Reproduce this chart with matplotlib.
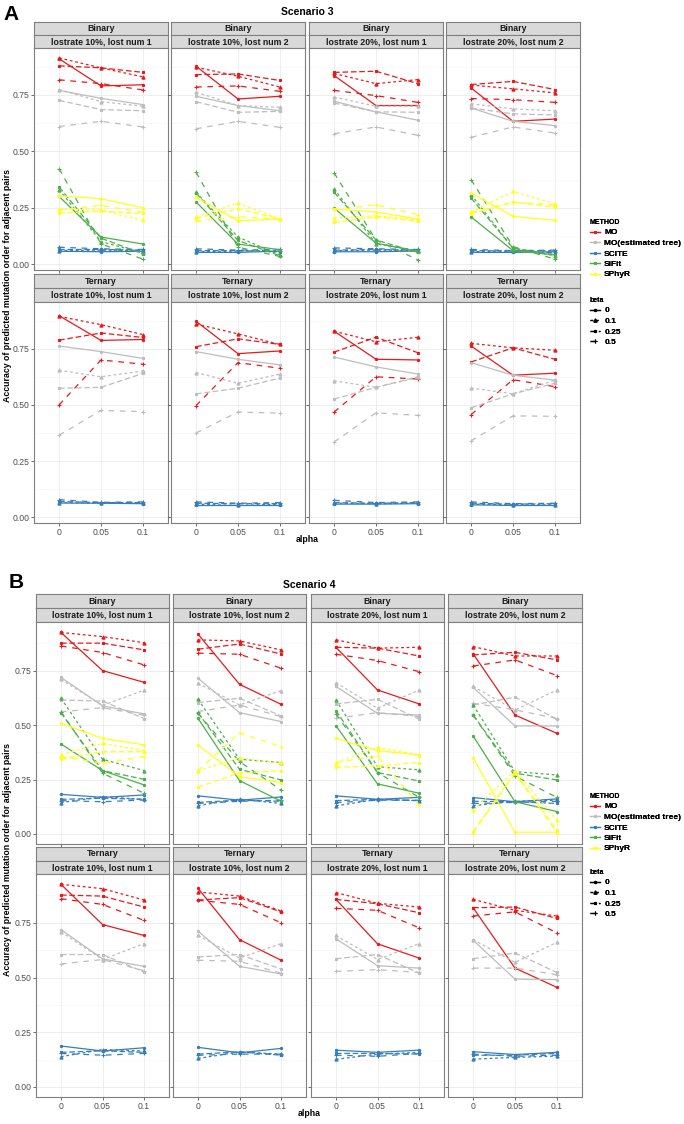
import matplotlib
matplotlib.use("Agg")
import matplotlib.pyplot as plt
from matplotlib.lines import Line2D
import numpy as np

plt.rcParams['font.family'] = ['Liberation Sans', 'DejaVu Sans']

# ---------------- data ----------------
ALPHAS = ["0", "0.05", "0.1"]
BETAS = ["0", "0.1", "0.25", "0.5"]
METHODS = ["MO", "MO(estimated tree)", "SCITE", "SiFit", "SPhyR"]
PANEL_LABELS = ["lostrate 10%, lost num 1", "lostrate 10%, lost num 2",
                "lostrate 20%, lost num 1", "lostrate 20%, lost num 2"]
ROW_LABELS = ["Binary", "Ternary"]
SCENARIOS = ["Scenario 3", "Scenario 4"]

# each array: 4 panels x 4 betas x 3 alphas
S3_BIN_MO = [[[.91, .79, .795], [.914, .87, .83], [.879, .87, .85], [.817, .80, .772]],
             [[.877, .732, .744], [.873, .833, .785], [.84, .843, .814], [.785, .79, .766]],
             [[.836, .703, .703], [.845, .80, .818], [.85, .855, .80], [.77, .747, .717]],
             [[.781, .633, .643], [.794, .777, .759], [.796, .81, .774], [.734, .729, .717]]]
S3_BIN_MOEST = [[[.77, .735, .707], [.774, .72, .70], [.726, .685, .68], [.61, .633, .608]],
                [[.744, .703, .68], [.762, .703, .695], [.72, .673, .677], [.60, .633, .606]],
                [[.722, .675, .638], [.74, .70, .70], [.714, .675, .673], [.578, .608, .571]],
                [[.692, .633, .614], [.711, .688, .68], [.692, .666, .661], [.562, .608, .581]]]
S3_BIN_SCITE = [[[.057, .055, .057], [.060, .062, .060], [.065, .065, .062], [.075, .068, .065]],
                [[.052, .052, .058], [.055, .058, .062], [.060, .060, .055], [.068, .062, .065]],
                [[.055, .055, .058], [.060, .062, .060], [.062, .065, .062], [.072, .068, .065]],
                [[.052, .052, .055], [.055, .058, .060], [.060, .058, .050], [.065, .060, .062]]]
S3_BIN_SIFIT = [[[.30, .12, .089], [.33, .10, .049], [.342, .115, .046], [.423, .09, .022]],
                [[.275, .089, .064], [.318, .12, .041], [.315, .105, .037], [.407, .075, .034]],
                [[.248, .093, .056], [.333, .09, .06], [.318, .107, .052], [.404, .107, .019]],
                [[.209, .06, .041], [.308, .071, .037], [.293, .071, .041], [.374, .078, .022]]]
S3_BIN_SPHYR = [[[.303, .29, .25], [.244, .24, .194], [.226, .235, .225], [.24, .26, .23]],
                [[.296, .192, .20], [.21, .27, .20], [.204, .245, .20], [.19, .21, .20]],
                [[.244, .231, .20], [.204, .214, .197], [.185, .209, .19], [.24, .263, .219]],
                [[.315, .212, .194], [.231, .322, .268], [.223, .275, .253], [.229, .274, .263]]]

S3_TER_MO = [[[.897, .787, .791], [.894, .857, .813], [.788, .82, .80], [.50, .70, .681]],
             [[.872, .728, .74], [.86, .816, .769], [.759, .794, .769], [.497, .688, .663]],
             [[.828, .703, .70], [.828, .781, .801], [.735, .801, .732], [.468, .625, .615]],
             [[.762, .632, .641], [.774, .754, .743], [.691, .754, .703], [.457, .612, .581]]]
S3_TER_MOEST = [[[.762, .737, .707], [.654, .625, .651], [.574, .578, .64], [.365, .475, .47]],
                [[.737, .703, .678], [.644, .596, .637], [.549, .574, .619], [.375, .468, .463]],
                [[.713, .669, .637], [.607, .578, .622], [.526, .578, .625], [.335, .465, .453]],
                [[.688, .632, .61], [.575, .549, .61], [.487, .549, .596], [.34, .451, .449]]]
S3_TER_SCITE = [[[.063, .062, .060], [.065, .062, .063], [.070, .065, .065], [.078, .066, .068]],
                [[.055, .055, .055], [.058, .052, .058], [.062, .060, .060], [.068, .062, .065]],
                [[.058, .058, .060], [.062, .060, .062], [.065, .062, .065], [.075, .065, .068]],
                [[.055, .052, .052], [.058, .055, .055], [.062, .058, .060], [.068, .060, .062]]]

S4_BIN_MO = [[[.925, .75, .696], [.925, .906, .878], [.876, .876, .845], [.863, .833, .776]],
             [[.918, .687, .595], [.891, .886, .845], [.848, .872, .826], [.83, .825, .761]],
             [[.857, .661, .597], [.891, .853, .857], [.857, .853, .817], [.825, .796, .745]],
             [[.827, .546, .462], [.86, .817, .817], [.822, .834, .799], [.771, .799, .727]]]
S4_BIN_MOEST = [[[.719, .588, .551], [.71, .59, .66], [.615, .61, .53], [.56, .58, .545]],
                [[.715, .557, .516], [.692, .592, .658], [.603, .623, .542], [.562, .592, .539]],
                [[.677, .554, .546], [.695, .577, .661], [.597, .618, .527], [.531, .557, .539]],
                [[.673, .496, .496], [.677, .569, .661], [.592, .628, .527], [.60, .57, .53]]]
S4_BIN_SCITE = [[[.182, .168, .179], [.144, .171, .159], [.159, .164, .159], [.153, .148, .156]],
                [[.175, .155, .17], [.13, .16, .14], [.145, .155, .15], [.14, .15, .155]],
                [[.175, .159, .168], [.129, .159, .153], [.153, .159, .153], [.144, .155, .155]],
                [[.167, .148, .161], [.13, .15, .155], [.15, .148, .14], [.14, .145, .15]]]
S4_BIN_SIFIT = [[[.413, .291, .225], [.623, .343, .291], [.557, .291, .251], [.562, .279, .187]],
                [[.531, .245, .15], [.618, .343, .328], [.557, .297, .248], [.554, .332, .202]],
                [[.497, .23, .187], [.615, .309, .294], [.566, .282, .243], [.551, .282, .168]],
                [[.45, .148, .103], [.592, .286, .271], [.546, .279, .248], [.546, .266, .168]]]
S4_BIN_SPHYR = [[[.508, .439, .409], [.363, .416, .383], [.343, .378, .378], [.355, .325, .355]],
                [[.409, .263, .236], [.29, .35, .325], [.215, .28, .29], [.29, .465, .40]],
                [[.439, .383, .363], [.328, .398, .363], [.306, .312, .328], [.328, .358, .133]],
                [[.35, .008, .008], [.11, .291, .064], [.011, .282, .018], [.006, .279, .006]]]

S4_TER_MO = [[[.926, .742, .692], [.926, .906, .854], [.877, .872, .822], [.86, .834, .761]],
             [[.908, .673, .579], [.891, .872, .804], [.854, .865, .80], [.853, .834, .75]],
             [[.857, .654, .589], [.888, .839, .822], [.857, .837, .796], [.816, .807, .727]],
             [[.819, .543, .455], [.857, .807, .781], [.819, .822, .77], [.781, .80, .704]]]
S4_TER_MOEST = [[[.719, .585, .551], [.709, .582, .655], [.605, .605, .525], [.562, .582, .531]],
                [[.712, .551, .516], [.692, .589, .655], [.594, .605, .539], [.579, .574, .52]],
                [[.677, .554, .543], [.692, .582, .655], [.586, .605, .52], [.528, .536, .523]],
                [[.67, .493, .49], [.673, .569, .661], [.586, .612, .523], [.543, .543, .513]]]
S4_TER_SCITE = [[[.187, .164, .179], [.138, .171, .164], [.158, .165, .158], [.153, .145, .153]],
                [[.181, .156, .176], [.13, .16, .15], [.15, .16, .145], [.145, .15, .15]],
                [[.168, .158, .168], [.126, .15, .158], [.153, .153, .15], [.145, .14, .153]],
                [[.161, .148, .158], [.127, .135, .141], [.145, .145, .153], [.15, .14, .145]]]

# ---------------- styles ----------------
COLORS = {"MO": "#E8191C", "MO(estimated tree)": "#BDBDBD", "SCITE": "#377EB8",
          "SiFit": "#4DAF4A", "SPhyR": "#FFFF1A"}
MARKERS = ['o', '^', 's', '+']
MSIZES = [1.6, 2.3, 2.0, 3.2]
DASHES = [None, (2.2, 2.2), (4.5, 2.2), (4.5, 4.5)]
LW = 0.9

W, H = 684, 1124
fig = plt.figure(figsize=(W / 100, H / 100), dpi=100)


def rect(x0, y0, x1, y1):
    return [x0 / W, 1 - y1 / H, (x1 - x0) / W, (y1 - y0) / H]


def strip(x0, x1, y0, y1, text):
    sa = fig.add_axes(rect(x0, y0, x1, y1))
    sa.set_facecolor('#D9D9D9')
    sa.set_xticks([]); sa.set_yticks([])
    for s in sa.spines.values():
        s.set_color('#7F7F7F'); s.set_linewidth(0.8)
    sa.text(0.5, 0.5, text, ha='center', va='center', fontsize=6.3,
            fontweight='bold', color='#1A1A1A', transform=sa.transAxes)


def make_line_kw(color, bi):
    return dict(color=color, lw=LW, marker=MARKERS[bi], markersize=MSIZES[bi], mew=0.8)


def draw_line(ax, vals, method, bi):
    x = np.arange(len(ALPHAS))
    ln, = ax.plot(x, vals, **make_line_kw(COLORS[method], bi))
    if DASHES[bi] is not None:
        ln.set_dashes(DASHES[bi])


def draw_scenario(data_rows, layout):
    cols = layout['cols']
    for r, (row_label, row_data) in enumerate(zip(ROW_LABELS, data_rows)):
        s1, s2, plot_y = layout['rows'][r]
        for c in range(4):
            x0, x1 = cols[c]
            strip(x0, x1, s1[0], s1[1], row_label)
            strip(x0, x1, s2[0], s2[1], PANEL_LABELS[c])
            ax = fig.add_axes(rect(x0, plot_y[0], x1, plot_y[1]))
            ax.set_facecolor('white')
            ax.set_xlim(-0.6, 2.6)
            ax.set_ylim(*layout['ylim'])
            ax.set_yticks([0, 0.25, 0.5, 0.75])
            ax.set_yticks([0.125, 0.375, 0.625, 0.875], minor=True)
            ax.set_xticks(range(len(ALPHAS)))
            ax.grid(True, which='major', color='#EBEBEB', lw=0.6, zorder=0)
            ax.grid(True, which='minor', axis='y', color='#F3F3F3', lw=0.4, zorder=0)
            ax.set_axisbelow(True)
            for s in ax.spines.values():
                s.set_color('#7F7F7F'); s.set_linewidth(0.8)
            ax.tick_params(which='major', length=2, width=0.5, color='#333333',
                           labelsize=6.2, labelcolor='#4D4D4D', pad=1.5)
            ax.tick_params(which='minor', length=0)
            if c == 0:
                ax.set_yticklabels(["0.00", "0.25", "0.50", "0.75"])
            else:
                ax.set_yticklabels([])
            if r == 1:
                ax.set_xticklabels(ALPHAS)
            else:
                ax.set_xticklabels([])
            for method in METHODS:
                if method not in row_data:
                    continue
                arr = row_data[method][c]
                for bi in range(len(BETAS)):
                    draw_line(ax, arr[bi], method, bi)


layout_A = dict(cols=[(34, 168), (171, 305), (309, 443), (446, 580)],
                rows=[((22, 35), (35, 48), (48, 270)),
                      ((274, 288), (288, 302), (302, 523))],
                ylim=(-0.026, 0.958))
layout_B = dict(cols=[(36, 169), (173, 306), (311, 444), (448, 582)],
                rows=[((594, 608), (608, 622), (622, 844)),
                      ((847, 861), (861, 874), (874, 1097))],
                ylim=(-0.046, 0.973))

data_A = [{"MO": S3_BIN_MO, "MO(estimated tree)": S3_BIN_MOEST, "SCITE": S3_BIN_SCITE,
           "SiFit": S3_BIN_SIFIT, "SPhyR": S3_BIN_SPHYR},
          {"MO": S3_TER_MO, "MO(estimated tree)": S3_TER_MOEST, "SCITE": S3_TER_SCITE}]
data_B = [{"MO": S4_BIN_MO, "MO(estimated tree)": S4_BIN_MOEST, "SCITE": S4_BIN_SCITE,
           "SiFit": S4_BIN_SIFIT, "SPhyR": S4_BIN_SPHYR},
          {"MO": S4_TER_MO, "MO(estimated tree)": S4_TER_MOEST, "SCITE": S4_TER_SCITE}]

draw_scenario(data_A, layout_A)
draw_scenario(data_B, layout_B)

# titles, panel letters, axis labels
fig.text(307 / W, 1 - 12 / H, SCENARIOS[0], ha='center', va='center', fontsize=7.5, fontweight='bold')
fig.text(309 / W, 1 - 585 / H, SCENARIOS[1], ha='center', va='center', fontsize=7.5, fontweight='bold')
fig.text(3 / W, 1 - 14 / H, "A", ha='left', va='center', fontsize=15, fontweight='bold')
fig.text(9 / W, 1 - 582 / H, "B", ha='left', va='center', fontsize=15, fontweight='bold')
ylab = "Accuracy of predicted mutation order for adjacent pairs"
fig.text(8 / W, 1 - 285 / H, ylab, rotation=90, ha='center', va='center', fontsize=6.3, fontweight='bold')
fig.text(8 / W, 1 - 860 / H, ylab, rotation=90, ha='center', va='center', fontsize=6.3, fontweight='bold')
fig.text(307 / W, 1 - 539 / H, "alpha", ha='center', va='center', fontsize=6.3, fontweight='bold')
fig.text(309 / W, 1 - 1113 / H, "alpha", ha='center', va='center', fontsize=6.3, fontweight='bold')

# legends
method_handles = [Line2D([], [], color=COLORS[m], lw=LW, marker='o', markersize=1.3) for m in METHODS]
beta_handles = []
for bi in range(len(BETAS)):
    h = Line2D([], [], **make_line_kw('black', bi))
    if DASHES[bi] is not None:
        h.set_dashes(DASHES[bi])
    beta_handles.append(h)

leg_kw = dict(loc='upper left', frameon=False, prop={'size': 6, 'weight': 'bold'},
              handlelength=1.2, handletextpad=0.5, labelspacing=0.32,
              borderpad=0, borderaxespad=0, alignment='left',
              title_fontproperties={'size': 5, 'weight': 'bold'})
for ytop_m, ytop_b in [(219, 297), (793, 869)]:
    l1 = fig.legend(method_handles, METHODS, title="METHOD",
                    bbox_to_anchor=(590 / W, 1 - ytop_m / H), **leg_kw)
    fig.add_artist(l1)
    l2 = fig.legend(beta_handles, BETAS, title="beta",
                    bbox_to_anchor=(590 / W, 1 - ytop_b / H), **leg_kw)
    fig.add_artist(l2)

fig.savefig("out.png", dpi=100)
